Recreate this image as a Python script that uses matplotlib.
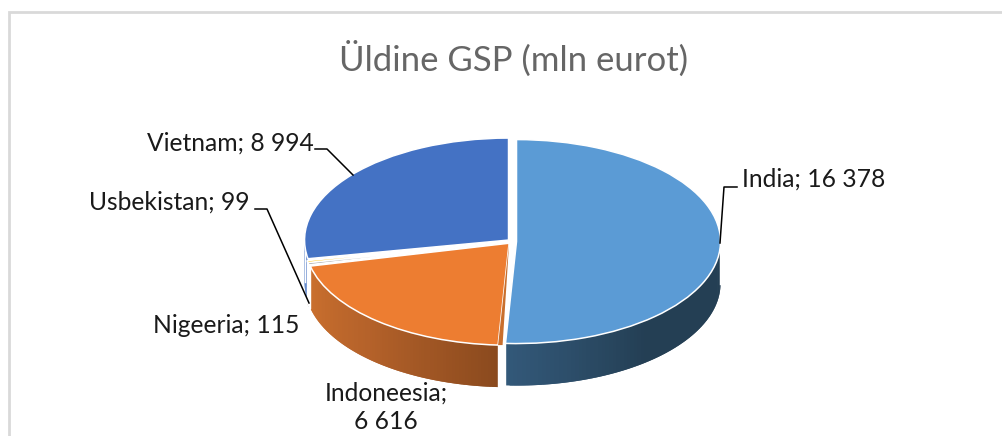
#!/usr/bin/env python3
import numpy as np
import matplotlib
matplotlib.use("Agg")
import matplotlib.pyplot as plt
from matplotlib.colors import to_rgb

W, H = 1003, 436

countries = ["India", "Indoneesia", "Nigeeria", "Usbekistan", "Vietnam"]
values = [16378, 6616, 115, 99, 8994]
top_colors = ["#5B9BD5", "#ED7D31", "#A5A5A5", "#FFC000", "#4472C4"]
# side wall shade along the rim, going left to right in the picture
wall_from = ["#33597A", "#CB702E", "#D8D8D8", "#E8D9A0", "#7FA0DC"]
wall_mid = ["#243F54", "#B5622A", "#D8D8D8", "#E8D9A0", "#5B86CE"]
wall_to = ["#243F54", "#8B4A1E", "#D8D8D8", "#E8D9A0", "#4472C4"]

title = "Üldine GSP (mln eurot)"
label_text = ["India; 16 378", "Indoneesia;\n6 616", "Nigeeria; 115", "Usbekistan; 99", "Vietnam; 8 994"]
label_pos = [(742, 179, "left"), (386, 407.5, "center"), (299, 325, "right"), (250, 202, "right"), (314, 143, "right")]
leaders = [
    [(737, 187), (724, 187), (720, 243)],
    [(315, 149), (327, 149), (353, 175)],
    [(255, 209), (267, 209), (309, 303)],
]

# pie layout in pixels
cx, cy, rx, ry, depth = 512, 241.5, 204, 102, 42
explode_px = 4.5

plt.rcParams["font.family"] = ["Lato", "DejaVu Sans"]
fig = plt.figure(figsize=(W / 100, H / 100), dpi=100, facecolor="white")
ax = fig.add_axes([0, 0, 1, 1])

explode = [explode_px / rx] * len(values)
wedges, _ = ax.pie(values, explode=explode, colors=top_colors, startangle=90, counterclock=False,
                   radius=1, center=(0, 0), wedgeprops={"edgecolor": "white", "linewidth": 1.1}, frame=False)
ax.set_aspect("auto")
ax.set_xlim(-cx / rx, (W - cx) / rx)
ax.set_ylim((cy - H) / ry, cy / ry)
ax.axis("off")
d = depth / ry


def shade(i, t):
    a, b, c = [np.array(to_rgb(s[i])) for s in (wall_from, wall_mid, wall_to)]
    return a + (b - a) * t / 0.45 if t < 0.45 else b + (c - b) * (t - 0.45) / 0.55


# side walls, only the front half of the rim (angles 180..360 are the lower half)
for i, w in enumerate(wedges):
    x0, y0 = w.center
    lo, hi = w.theta1 % 360, w.theta2 % 360
    if hi < lo:
        hi = 360
    lo = max(lo, 180)
    if hi <= lo:
        continue
    n = 80
    edges = np.linspace(lo, hi, n + 1)
    for k in range(n):
        # quads overlap the next one so no seams show
        a = np.radians(np.linspace(edges[k], edges[min(k + 2, n)], 4))
        xs, ys = x0 + np.cos(a), y0 + np.sin(a)
        ax.fill(np.r_[xs, xs[::-1]], np.r_[ys, ys[::-1] - d], color=shade(i, (k + .5) / n), lw=0, zorder=0.5)
    for t in np.radians([lo, hi]):
        ax.plot([x0 + np.cos(t)] * 2, [y0 + np.sin(t), y0 + np.sin(t) - d], color="white", lw=1, zorder=0.7)

# thin inner wall of the Indonesia slice, seen next to the India cut
w = wedges[1]
t = np.radians(w.theta2)
ex, ey = w.center[0] + np.cos(t), w.center[1] + np.sin(t)
ax.fill([w.center[0], ex, ex + 4.5 / rx], [w.center[1], ey, ey], color="#C96F2D", lw=0, zorder=2)

for w in wedges:
    w.set_zorder(1)
wedges[0].set_zorder(3)


def px(x, y):
    return x / W, 1 - y / H


fig.text(*px(514, 59), title, ha="center", va="center", fontsize=25, color="#666666")
for txt, (x, y, ha) in zip(label_text, label_pos):
    fig.text(*px(x, y), txt, ha=ha, va="center", fontsize=17.7, color="#1A1A1A", linespacing=1.3, multialignment="center")
for pts in leaders:
    xs, ys = zip(*pts)
    fig.add_artist(plt.Line2D(np.array(xs) / W, 1 - np.array(ys) / H, color="black", lw=1.1))

# chart frame, cut off by the screenshot on the right and bottom
fig.add_artist(plt.Line2D([9 / W, 9 / W, 1003 / W], [0, 1 - 12.5 / H, 1 - 12.5 / H], color="#D9D9D9", lw=2, solid_joinstyle="miter"))

fig.savefig("out.png", dpi=100)
